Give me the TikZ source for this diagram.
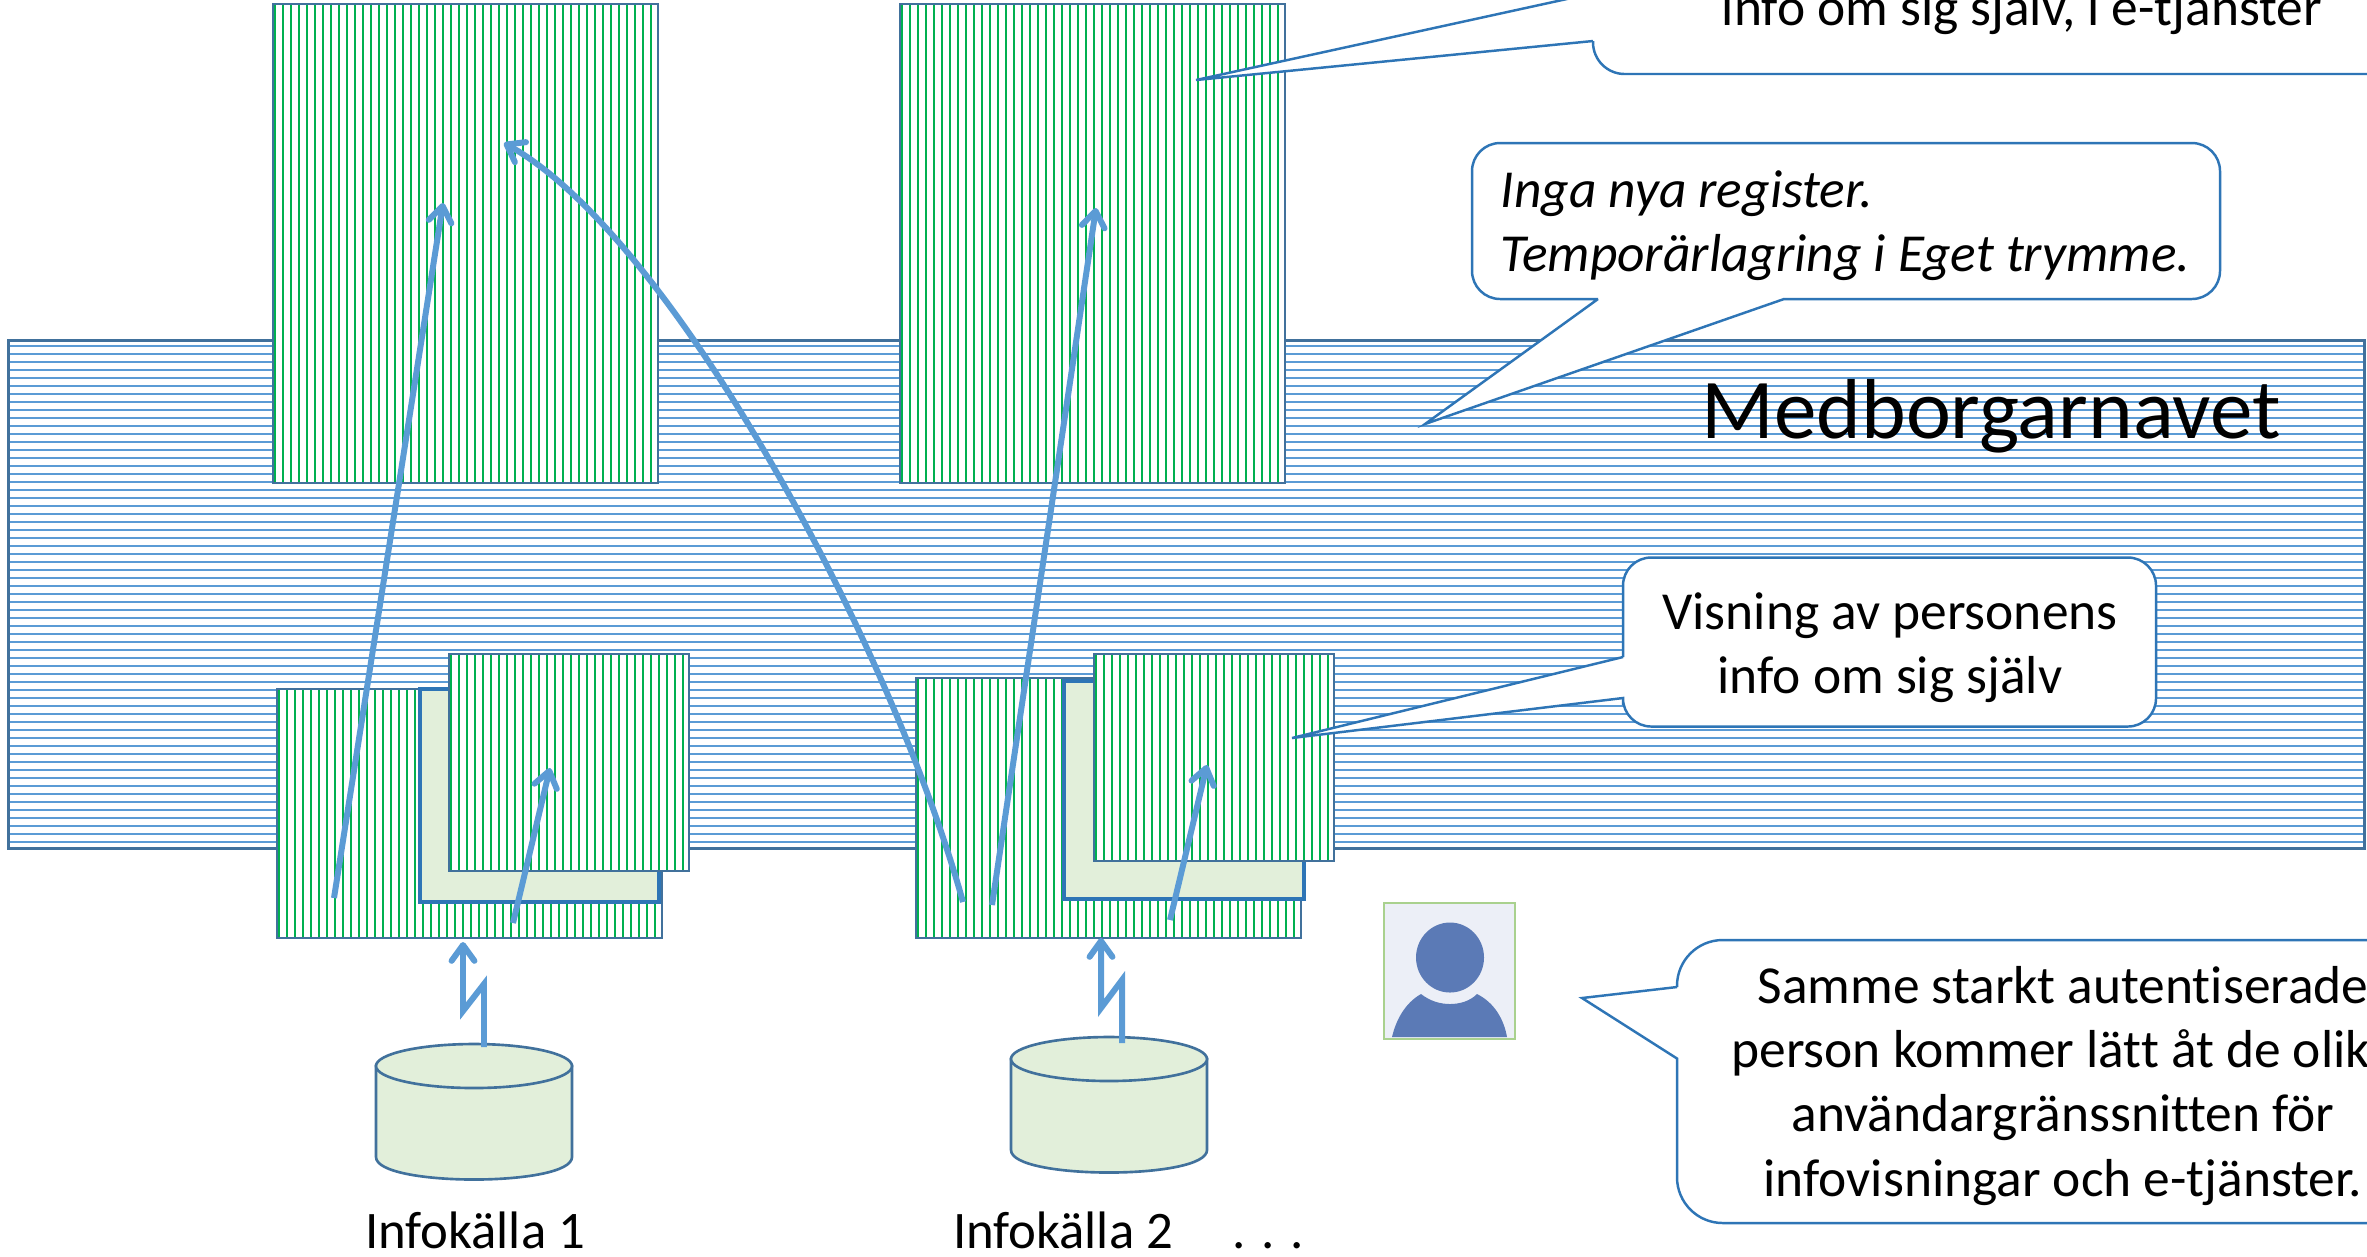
\documentclass[tikz,border=0pt]{standalone}
\usepackage{fontspec}
\setmainfont{Carlito}[Ligatures=NoCommon]
\usetikzlibrary{arrows.meta}

\definecolor{hubblue}{HTML}{5B9BD5}
\definecolor{frameblue}{HTML}{41719C}
\definecolor{calloutblue}{HTML}{2E75B6}
\definecolor{hatchgreen}{HTML}{00B050}
\definecolor{palegreen}{HTML}{E2EFDA}
\definecolor{personblue}{HTML}{5B7AB6}
\definecolor{personback}{HTML}{ECEFF7}
\definecolor{personedge}{HTML}{A9D18E}

\tikzset{
  hubframe/.style={draw=frameblue, line width=0.8pt, fill=white},
  hubline/.style={hubblue, line width=0.57pt},
  hatchframe/.style={draw=frameblue, line width=0.75pt, fill=white, inner sep=0pt, outer sep=0pt},
  hatchline/.style={hatchgreen, line width=0.57pt},
  paper/.style={draw=calloutblue, line width=1.1pt, fill=palegreen, inner sep=0pt, outer sep=0pt},
  flow/.style={hubblue, line width=1.7pt, -{Straight Barb[length=4.5pt,width=6.5pt,round]}},
  drum/.style={draw=frameblue, line width=0.75pt, fill=palegreen},
  bubble/.style={draw=calloutblue, line width=0.7pt, fill=white},
  bubbletext/.style={font=\fontsize{15.2}{18.2}\selectfont, align=center, inner sep=0pt},
  caption/.style={font=\fontsize{15}{18.2}\selectfont, anchor=base, inner sep=0pt}
}

\newcommand{\hatchbox}[5]{
  \node[hatchframe, minimum width={(#4-#2)*0.01cm}, minimum height={(#5-#3)*0.01cm}] (#1)
    at ({(#2+#4)/2},{(#3+#5)/2}) {};
  \pgfmathsetmacro{\hatchfirst}{#2+2}
  \pgfmathsetmacro{\hatchnext}{#2+10}
  \pgfmathsetmacro{\hatchlast}{#4-1}
  \foreach \xx in {\hatchfirst,\hatchnext,...,\hatchlast}
    \draw[hatchline] (\xx,#3+1) -- (\xx,#5-1);
}

\newcommand{\sourcedrum}[3]{
  \draw[drum] (#2-98,#3+22) -- (#2-98,#3+113) .. controls (#2-98,#3+143) and (#2+98,#3+143) .. (#2+98,#3+113)
    -- (#2+98,#3+22) -- cycle;
  \draw[drum] (#2,#3+22) ellipse [x radius=98, y radius=22];
  \coordinate (#1) at (#2,#3);
}

\begin{document}
\begin{tikzpicture}[x=0.01cm,y=-0.01cm]
  \useasboundingbox (0,0) rectangle (2367,1256);

  % the hub
  \node[hubframe, minimum width=23.55cm, minimum height=5.07cm, inner sep=0pt, outer sep=0pt] (hub) at (1186.5,594.5) {};
  \foreach \yy in {346,354,...,846}
    \draw[hubline] (10,\yy) -- (2363,\yy);
  \node[anchor=base, inner sep=0pt, font=\fontsize{24.2}{30}\selectfont] (hubname) at (1991,438) {Medborgarnavet};

  % services on top of the hub
  \hatchbox{serviceA}{273}{4}{658}{483}
  \hatchbox{serviceB}{900}{4}{1285}{483}

  % first group
  \hatchbox{adapterA}{277}{689}{662}{938}
  \node[paper, minimum width=2.39cm, minimum height=2.13cm] (paperA) at (539.5,795.5) {};
  \hatchbox{viewA}{449}{654}{689}{871}

  % second group
  \hatchbox{adapterB}{916}{678}{1301}{938}
  \node[paper, minimum width=2.40cm, minimum height=2.18cm] (paperB) at (1184,790) {};
  \hatchbox{viewB}{1094}{654}{1334}{861}

  % sources
  \sourcedrum{sourceA}{474}{1044}
  \sourcedrum{sourceB}{1109}{1037}
  \node[caption] (labelA) at (475,1248) {Infokälla 1};
  \node[caption] (labelB) at (1063,1248) {Infokälla 2};
  \node[caption] (dots) at (1268,1248) {. . .};

  % end points of the arrows
  \coordinate (boltA) at (484,1047);
  \coordinate (boltAtip) at (463,942);
  \coordinate (boltB) at (1122,1043);
  \coordinate (boltBtip) at (1101,938);
  \coordinate (riseA) at (334,898);
  \coordinate (riseAtip) at (443,203);
  \coordinate (riseB) at (992,905);
  \coordinate (riseBtip) at (1096,208);
  \coordinate (shortA) at (513,923);
  \coordinate (shortAtip) at (550,768);
  \coordinate (shortB) at (1170,920);
  \coordinate (shortBtip) at (1207,765);
  \coordinate (crossB) at (963,902);
  \coordinate (crossBtip) at (504,143);

  \draw[flow] (boltA) -- (484,984) -- (463,1011) -- (boltAtip);
  \draw[flow] (boltB) -- (1122,980) -- (1101,1008) -- (boltBtip);
  \draw[flow] (riseA) -- (riseAtip);
  \draw[flow] (riseB) -- (riseBtip);
  \draw[flow] (shortA) -- (shortAtip);
  \draw[flow] (shortB) -- (shortBtip);
  \draw[flow] (crossB) .. controls (890,640) and (670,235) .. (crossBtip);

  % the person
  \node[draw=personedge, line width=0.6pt, fill=personback, minimum width=1.31cm, minimum height=1.365cm,
    inner sep=0pt, outer sep=0pt] (person) at (1449.5,971) {};
  \fill[personblue] (1450,957.5) ellipse [x radius=34, y radius=35];
  \fill[personblue] (1392,1037) .. controls (1396,1020) and (1405,1003) .. (1421,994)
    .. controls (1430,1001) and (1440,1004) .. (1450,1004)
    .. controls (1460,1004) and (1470,1001) .. (1477,994)
    .. controls (1495,1003) and (1504,1020) .. (1507,1037) -- cycle;

  % callouts
  \draw[bubble] (1593,41) -- (1196,80) -- (1608,-10) -- (2450,-10) -- (2450,74)
    {[rounded corners=9pt] -- (1593,74) -- (1593,41)};
  \node[bubbletext, anchor=base] (bubbleTop) at (2022,25) {info om sig själv, i e-tjänster};

  \draw[bubble] (1598,299) -- (1425,424) -- (1784,299) -- (1800,299)
    {[rounded corners=8pt] -- (2220,299) -- (2220,143) -- (1472,143) -- (1472,299) -- (1598,299)};
  \node[bubbletext, anchor=base west, font=\fontsize{15.2}{18.2}\selectfont\itshape] (bubbleInga) at (1500,207) {Inga nya register.};
  \node[bubbletext, anchor=base west, font=\fontsize{15.2}{18.2}\selectfont\itshape] (bubbleTemp) at (1500,271) {Temporärlagring i Eget trymme.};

  \draw[bubble] (1623,657) -- (1292,738) -- (1623,698) -- (1623,705)
    {[rounded corners=8pt] -- (1623,726.5) -- (2156,726.5) -- (2156,557.5) -- (1623,557.5) -- (1623,657)};
  \node[bubbletext] (bubbleShow) at (1890,647.5) {Visning av personens\\info om sig själv};

  \draw[bubble] (1677,987) -- (1582,998) -- (1677,1058.5) -- (1677,1065)
    {[rounded corners=13pt] -- (1677,1223) -- (2450,1223) -- (2450,940) -- (1677,940) -- (1677,987)};
  \node[bubbletext] (bubbleSame) at (2063,1086) {Samme starkt autentiserade\\person kommer lätt åt de olika\\användargränssnitten för\\infovisningar och e-tjänster.};
\end{tikzpicture}
\end{document}
